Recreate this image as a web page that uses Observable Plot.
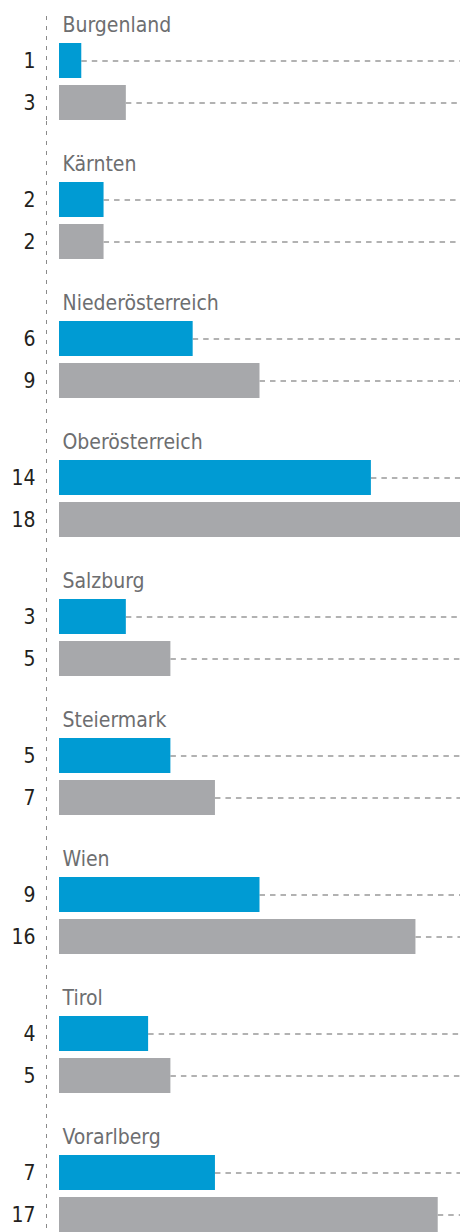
<!DOCTYPE html>
<html>
<head>
<meta charset="utf-8">
<script src="https://cdn.jsdelivr.net/npm/d3@7"></script>
<script src="https://cdn.jsdelivr.net/npm/@observablehq/plot@0.6"></script>
<style>
  html, body { margin: 0; padding: 0; background: #fff; overflow: hidden; }
</style>
</head>
<body>
<script>
const regions = ["Burgenland", "Kärnten", "Niederösterreich", "Oberösterreich", "Salzburg", "Steiermark", "Wien", "Tirol", "Vorarlberg"];
const seriesNames = ["Reihe 1", "Reihe 2"];
const valuesBlue = [1, 2, 6, 14, 3, 5, 9, 4, 7];
const valuesGray = [3, 2, 9, 18, 5, 7, 16, 5, 17];
const seriesColors = ["#009bd3", "#a7a8ab"];

const data = regions.flatMap((r, i) => [
  {region: r, series: seriesNames[0], value: valuesBlue[i]},
  {region: r, series: seriesNames[1], value: valuesGray[i]}
]);
const xMax = d3.max(data, d => d.value);
const font = "'Liberation Sans Narrow', 'Arial Narrow', 'DejaVu Sans Condensed', sans-serif";

const chart = Plot.plot({
  width: 460,
  height: 1232,
  marginLeft: 59,
  marginRight: 0,
  marginTop: 0,
  marginBottom: 0,
  style: {fontFamily: font, background: "#fff", overflow: "visible"},
  x: {domain: [0, xMax], axis: null},
  y: {domain: seriesNames, paddingInner: 0.1628, paddingOuter: 0, axis: null},
  fy: {domain: regions, range: [39, 1238], paddingInner: 0.4357, paddingOuter: 0, axis: null},
  color: {domain: seriesNames, range: seriesColors},
  marks: [
    // dashed vertical axis line
    Plot.ruleX(regions.slice(0, 1), {fy: d => d, x: () => 0, dx: -13, insetTop: -27, stroke: "#8a8a8a", strokeWidth: 1, strokeDasharray: "4,6"}),
    Plot.ruleX(regions.slice(1), {fy: d => d, x: () => 0, dx: -13, insetTop: -61, stroke: "#8a8a8a", strokeWidth: 1, strokeDasharray: "4,6"}),
    // dashed guide lines
    Plot.ruleY(data, {fy: "region", y: "series", x1: "value", x2: () => xMax, stroke: "#999999", strokeWidth: 1.4, strokeDasharray: "5.5,5", dashoffset: -3}),
    // bars
    Plot.barX(data, {fy: "region", y: "series", x: "value", fill: "series"}),
    // value labels
    Plot.text(data, {fy: "region", y: "series", text: d => String(d.value), frameAnchor: "left", dx: -24, textAnchor: "end", fontSize: 21, fill: "#231f20"}),
    // region labels
    Plot.text(regions, {fy: d => d, text: d => d, frameAnchor: "top-left", dx: 3, dy: -26, textAnchor: "start", fontSize: 21, fill: "#6d6e70", style: "letter-spacing: 2px"})
  ]
});
document.body.appendChild(chart);
</script>
</body>
</html>
